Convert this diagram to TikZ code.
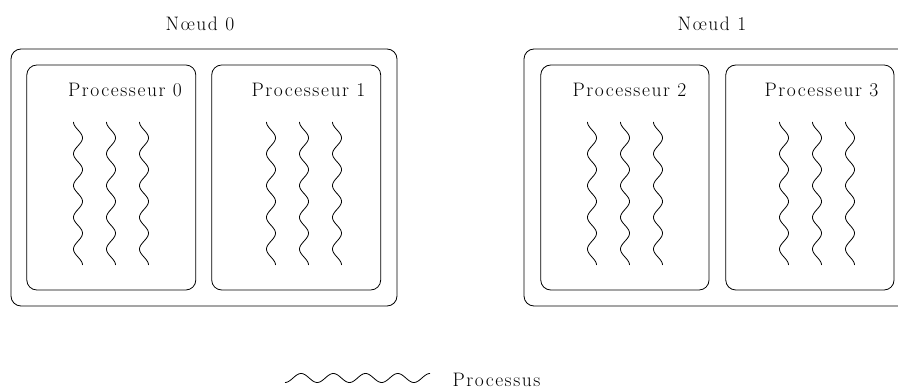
\documentclass[tikz,border=0pt]{standalone}
\usepackage{fontspec}
\setmainfont{Latin Modern Roman}[LetterSpace=8]
\begin{document}
\begin{tikzpicture}[x=1pt,y=-1pt,
  every node/.style={inner sep=0pt,outer sep=0pt},
  noeud/.style={draw,rounded corners=10pt,line width=0.8pt},
  proc/.style={draw,rounded corners=10pt,line width=0.8pt,minimum width=169pt,minimum height=225pt},
  lbl/.style={anchor=base,font=\fontsize{19.5}{22}\selectfont},
  wave/.style={line width=0.8pt}]
\useasboundingbox (0,0) rectangle (898,390);
% nodes
\node[noeud,minimum width=386pt,minimum height=257pt] (n0) at (204,177.5) {};
\node[noeud,minimum width=386pt,minimum height=257pt] (n1) at (717,177.5) {};
\node[lbl] (ln0) at (200,31) {Nœud 0};
\node[lbl] (ln1) at (712,31) {Nœud 1};
% processors
\node[proc] (p0) at (111.3,177.5) {};
\node[proc] (p1) at (296.2,177.5) {};
\node[proc,minimum width=168.3pt] (p2) at (624.9,177.5) {};
\node[proc,minimum width=168.3pt] (p3) at (809.9,177.5) {};
\node[lbl] (lp0) at (125,97) {Processeur 0};
\node[lbl] (lp1) at (308.5,97) {Processeur 1};
\node[lbl] (lp2) at (629.5,97) {Processeur 2};
\node[lbl] (lp3) at (821.5,97) {Processeur 3};
% processes
\foreach \cx in {78,111,144, 271,304,337, 592,625,658, 784,817,850}{
  \draw[wave] plot[domain=0:143,samples=120,smooth,variable=\t] ({\cx-4.5*cos(\t*11.328)},{122+\t});
}
% legend
\draw[wave] plot[domain=0:145,samples=120,smooth,variable=\t] ({285+\t},{378+4.5*cos(\t*11.172)});
\node[lbl,anchor=base west] (leg) at (452.5,386.5) {Processus};
\end{tikzpicture}
\end{document}
